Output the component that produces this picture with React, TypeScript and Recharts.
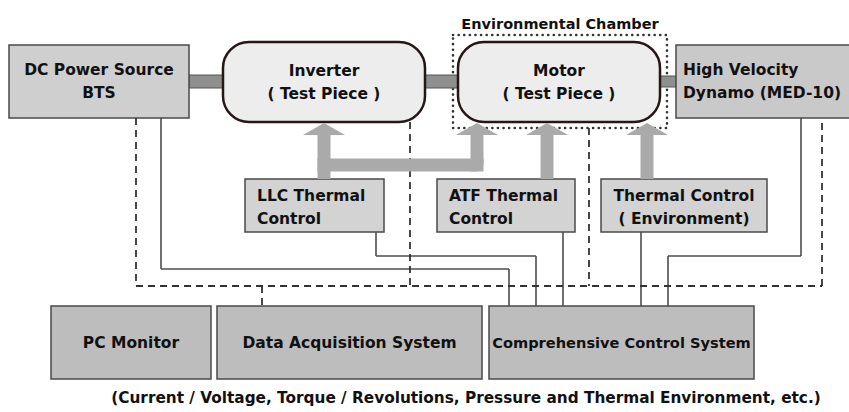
import React from "react";
import {
  ComposedChart,
  XAxis,
  YAxis,
  ReferenceArea,
  ReferenceLine,
  ReferenceDot,
} from "recharts";

const W = 849;
const H = 412;
const FONT = '"DejaVu Sans", "Noto Sans CJK JP", sans-serif';

// boxes: [x1, x2, y1, y2]
const boxNames = ["dc", "inverter", "motor", "dynamo", "llc", "atf", "envCtl", "pc", "daq", "ccs"];
const boxRects: number[][] = [
  [9, 189, 45, 118],
  [223, 425, 42, 122],
  [458, 660, 42, 122],
  [676, 856, 45, 118],
  [245, 384, 179, 232],
  [437, 575, 179, 232],
  [601, 767, 179, 232],
  [51, 211, 306, 379],
  [217, 482, 306, 379],
  [489, 754, 306, 379],
];
const boxLabels: string[][] = [
  ["DC Power Source", "BTS"],
  ["Inverter", "( Test Piece )"],
  ["Motor", "( Test Piece )"],
  ["High Velocity", "Dynamo (MED-10)"],
  ["LLC Thermal", "Control"],
  ["ATF Thermal", "Control"],
  ["Thermal Control", "( Environment)"],
  ["PC Monitor"],
  ["Data Acquisition System"],
  ["Comprehensive Control System"],
];
const boxKinds = ["rect", "round", "round", "rectLeft", "smallLeft", "smallLeft", "small", "bottom", "bottom", "bottomTight"];

// thick shafts between power components: [x1, x2, y1, y2]
const shafts: number[][] = [
  [189, 223, 75, 88],
  [425, 458, 75, 88],
  [660, 676, 76, 87],
];

// environmental chamber outline
const chamber = [453, 667, 35, 128];
const chamberTitle = "Environmental Chamber";

// signal wiring
const solidPaths: number[][][] = [
  [[161, 118], [161, 269], [509, 269], [509, 306]],
  [[376, 232], [376, 256], [536, 256], [536, 306]],
  [[563, 232], [563, 306]],
  [[641, 232], [641, 306]],
  [[801, 118], [801, 256], [668, 256], [668, 306]],
];
const dashedPaths: number[][][] = [
  [[136, 118], [136, 286], [822, 286], [822, 118]],
  [[410, 122], [410, 286]],
  [[589, 128], [589, 286]],
  [[262, 286], [262, 306]],
];

// thermal flow arrows
const flowPaths: number[][][] = [
  [[324, 179], [324, 134]],
  [[324, 165], [477, 165], [477, 134]],
  [[547, 179], [547, 134]],
  [[647, 179], [647, 134]],
];
const arrowTips: number[][] = [
  [324, 123],
  [477, 123],
  [547, 123],
  [647, 123],
];

const caption = "(Current / Voltage, Torque / Revolutions, Pressure and Thermal Environment, etc.)";

const fills: Record<string, string> = {
  rect: "#cfcfcf",
  rectLeft: "#c9c9c9",
  round: "#ededed",
  small: "#d2d3d2",
  smallLeft: "#d2d3d2",
  bottom: "#bdbdbd",
  bottomTight: "#bdbdbd",
};

function segments(path: number[][]) {
  const out: { x: number; y: number }[][] = [];
  for (let i = 0; i < path.length - 1; i++) {
    out.push([
      { x: path[i][0], y: path[i][1] },
      { x: path[i + 1][0], y: path[i + 1][1] },
    ]);
  }
  return out;
}

function makeBoxShape(lines: string[], kind: string) {
  return (props: any) => {
    const { x, y, width, height } = props;
    const round = kind === "round";
    const left = kind === "rectLeft" || kind === "smallLeft";
    const cx = x + width / 2;
    const cy = y + height / 2;
    const tx = kind === "rectLeft" ? x + 7 : kind === "smallLeft" ? x + 12 : cx;
    const gap = 23;
    const startY = cy - ((lines.length - 1) * gap) / 2 + (kind.startsWith("small") ? 2 : 0);
    return (
      <g>
        <rect
          x={x}
          y={y}
          width={width}
          height={height}
          rx={round ? 26 : 0}
          fill={fills[kind]}
          stroke={round ? "#231815" : "#4a4a4a"}
          strokeWidth={round ? 2.5 : 1.5}
        />
        {lines.map((t, i) => (
          <text
            key={i}
            x={tx}
            y={startY + i * gap}
            textAnchor={left ? "start" : "middle"}
            dominantBaseline="central"
            fontFamily={FONT}
            fontWeight="bold"
            fontSize={kind === "bottomTight" ? 14.6 : 15.5}
            fill="#111"
          >
            {t}
          </text>
        ))}
      </g>
    );
  };
}

const arrowHead = (props: any) => {
  const { cx, cy } = props;
  const pts = `${cx},${cy} ${cx - 21},${cy + 12} ${cx + 21},${cy + 12}`;
  return <polygon points={pts} fill="#a9aaa9" />;
};

export default function App() {
  return (
    <div style={{ position: "fixed", left: 0, top: 0, width: W, height: H, background: "#fff" }}>
      <ComposedChart width={W} height={H} data={[{ x: 0, y: 0 }, { x: W, y: H }]} margin={{ top: 0, right: 0, bottom: 0, left: 0 }}>
        <XAxis type="number" dataKey="x" domain={[0, W]} hide allowDataOverflow />
        <YAxis type="number" dataKey="y" domain={[0, H]} reversed hide allowDataOverflow />

        {solidPaths.flatMap((p, i) =>
          segments(p).map((s, j) => (
            <ReferenceLine key={`s${i}-${j}`} segment={s} stroke="#4d4d4d" strokeWidth={1.6} ifOverflow="visible" />
          ))
        )}
        {dashedPaths.flatMap((p, i) =>
          segments(p).map((s, j) => (
            <ReferenceLine
              key={`d${i}-${j}`}
              segment={s}
              stroke="#333"
              strokeWidth={1.8}
              strokeDasharray="7 5"
              ifOverflow="visible"
            />
          ))
        )}
        {flowPaths.flatMap((p, i) =>
          segments(p).map((s, j) => (
            <ReferenceLine key={`f${i}-${j}`} segment={s} stroke="#a9aaa9" strokeWidth={13} ifOverflow="visible" />
          ))
        )}
        {/* square the flow corners */}
        <ReferenceArea x1={317.5} x2={330.5} y1={158.5} y2={171.5} fill="#a9aaa9" fillOpacity={1} stroke="none" />
        <ReferenceArea x1={470.5} x2={483.5} y1={158.5} y2={171.5} fill="#a9aaa9" fillOpacity={1} stroke="none" />

        <ReferenceArea
          x1={chamber[0]}
          x2={chamber[1]}
          y1={chamber[2]}
          y2={chamber[3]}
          fill="none"
          stroke="#333"
          strokeWidth={2.6}
          strokeDasharray="0.1 5.5"
          strokeLinecap="round"
          ifOverflow="visible"
          label={{
            value: chamberTitle,
            position: "top",
            offset: 6,
            fill: "#111",
            fontFamily: FONT,
            fontWeight: "bold",
            fontSize: 14.5,
          }}
        />

        {shafts.map((s, i) => (
          <ReferenceArea
            key={`sh${i}`}
            x1={s[0]}
            x2={s[1]}
            y1={s[2]}
            y2={s[3]}
            fill="#8e8f8e"
            fillOpacity={1}
            stroke="#555"
            strokeWidth={1}
            ifOverflow="visible"
          />
        ))}

        {boxRects.map((b, i) => (
          <ReferenceArea
            key={boxNames[i]}
            x1={b[0]}
            x2={b[1]}
            y1={b[2]}
            y2={b[3]}
            ifOverflow="visible"
            shape={makeBoxShape(boxLabels[i], boxKinds[i])}
          />
        ))}

        {arrowTips.map((a, i) => (
          <ReferenceDot key={`a${i}`} x={a[0]} y={a[1]} r={1} ifOverflow="visible" shape={arrowHead} />
        ))}

        <ReferenceDot
          x={466}
          y={398}
          r={1}
          ifOverflow="visible"
          shape={(p: any) => (
            <text
              x={p.cx}
              y={p.cy}
              textAnchor="middle"
              dominantBaseline="central"
              fontFamily={FONT}
              fontWeight="bold"
              fontSize={15.3}
              fill="#111"
            >
              {caption}
            </text>
          )}
        />
      </ComposedChart>
    </div>
  );
}
